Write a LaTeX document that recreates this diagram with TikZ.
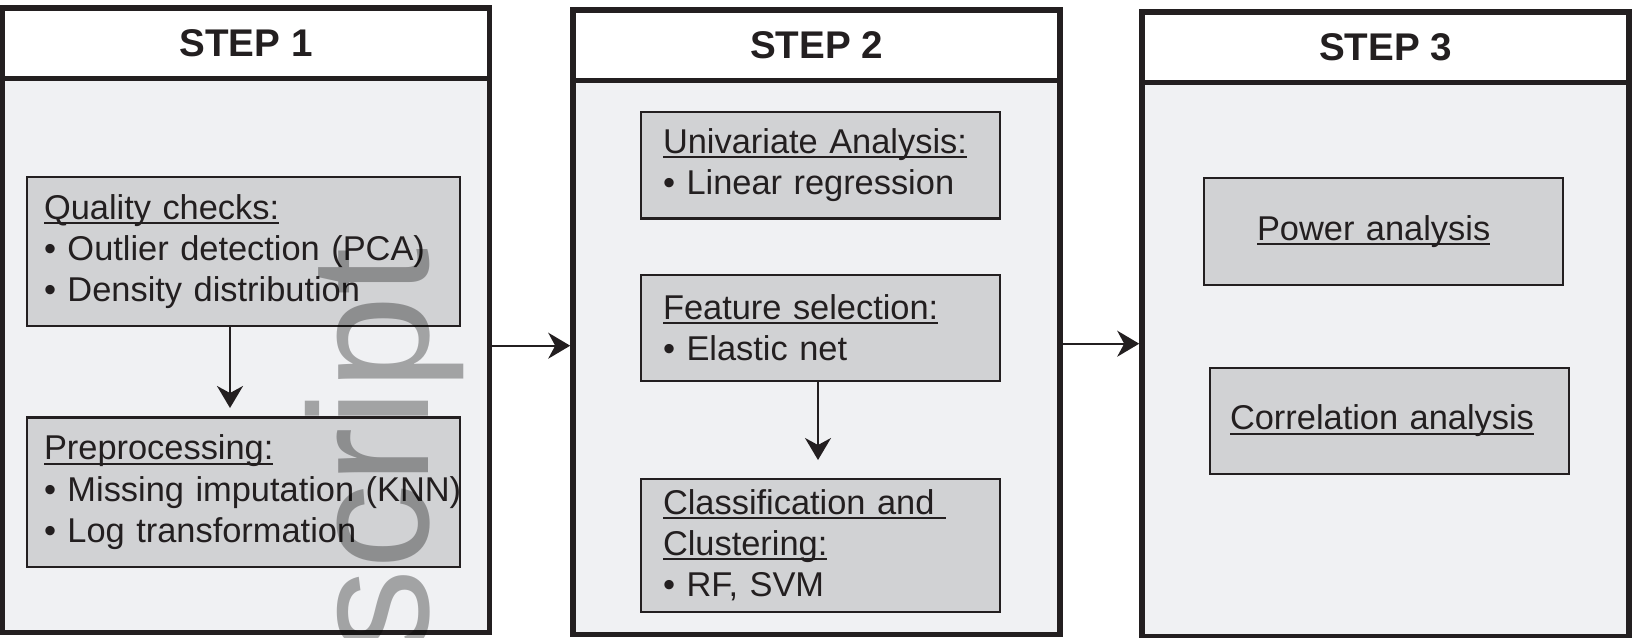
\documentclass[tikz,border=0pt]{standalone}
\usepackage{fontspec}
\setmainfont{Liberation Sans}
\usepackage{tikz}
\usetikzlibrary{arrows.meta,positioning}

\definecolor{ink}{HTML}{231F20}
\definecolor{panel}{HTML}{F0F1F3}
\definecolor{boxgray}{HTML}{D1D2D4}

% underlined heading line, rule at a fixed depth
\newcommand{\hdl}[1]{\leavevmode\setbox0=\hbox{#1}\rlap{\rule[-2.3pt]{\wd0}{1pt}}\box0}

\tikzset{
  stephead/.style={draw=ink, line width=2.8pt, fill=white, anchor=north west, outer sep=0pt,
    minimum width=243.5pt, minimum height=35.25pt, text=ink,
    font=\fontsize{19.3pt}{23pt}\selectfont\bfseries},
  stepbody/.style={draw=ink, line width=2.8pt, fill=panel, outer sep=0pt,
    minimum width=243.5pt, minimum height=277pt},
  taskbox/.style={draw=ink, line width=1.2pt, fill=boxgray, outer sep=0pt, align=left,
    text=ink, font=\fontsize{17.2pt}{20.6pt}\selectfont},
  onetask/.style={taskbox, text width=199.5pt, inner xsep=8.5pt, minimum height=74.5pt},
  twotask/.style={taskbox, text width=157.5pt, inner xsep=11pt},
  flow/.style={line width=1pt, draw=ink, -{Stealth[length=11pt,width=13pt,inset=3.5pt]}}
}

\begin{document}
\begin{tikzpicture}

\useasboundingbox (0,0) rectangle (816pt,-318.5pt);

% step 1
\node(s1head)[stephead] at (1.25pt,-4pt){STEP 1};

\node(s1)[stepbody, below = 0pt of s1head]{};

\node(qc)[onetask, anchor=north west] at (13.5pt,-88.5pt){\hdl{Quality checks:}\\\mbox{• Outlier detection (PCA)}\\\mbox{• Density distribution}};

\node(pre)[onetask, minimum height=74.75pt, below = 45.75pt of qc]{\hdl{Preprocessing:}\\\mbox{• Missing imputation (KNN)}\\\mbox{• Log transformation}};

% step 2
\node(s2head)[stephead] at (286.5pt,-5pt){STEP 2};

\node(s2)[stepbody, below = 0pt of s2head]{};

\node(uni)[twotask, minimum height=53.25pt, anchor=north west] at (320.5pt,-56pt){\hdl{Univariate Analysis:}\\\mbox{• Linear regression}};

\node(fs)[twotask, minimum height=53pt, below = 28.25pt of uni]{\hdl{Feature selection:}\\\mbox{• Elastic net}};

\node(cls)[twotask, minimum height=66.5pt, below = 49pt of fs]{\hdl{Classification and\ }\\\hdl{Clustering:}\\\mbox{• RF, SVM}};

% step 3
\node(s3head)[stephead] at (571pt,-6pt){STEP 3};

\node(s3)[stepbody, below = 0pt of s3head]{};

\node(pow)[taskbox, text width=126.5pt, inner xsep=26.5pt, minimum height=53.5pt, anchor=north west] at (602pt,-89pt){\hdl{Power analysis}};

\node(cor)[taskbox, text width=159.5pt, inner xsep=10pt, minimum height=53pt, anchor=north west] at (605pt,-184pt){\hdl{Correlation analysis}};

% arrows
\draw[flow, shorten >=4.75pt] ([xshift=-6.75pt]qc.south) -- ([xshift=-6.75pt]pre.north);

\draw[flow, shorten >=9.5pt] ([xshift=-1.25pt]fs.south) -- ([xshift=-1.25pt]cls.north);

\draw[flow, shorten >=1.4pt] ([yshift=4.9pt]s1.east) coordinate (a1) -- (a1 -| s2.west);

\draw[flow, shorten >=1.4pt] ([yshift=6.9pt]s2.east) coordinate (a2) -- (a2 -| s3.west);

% watermark
\node(wm)[rotate=90, anchor=base west, inner sep=0pt, text=black, text opacity=0.32,
  font=\fontsize{85pt}{85pt}\selectfont] at (214pt,-327.5pt){script};

\end{tikzpicture}
\end{document}
